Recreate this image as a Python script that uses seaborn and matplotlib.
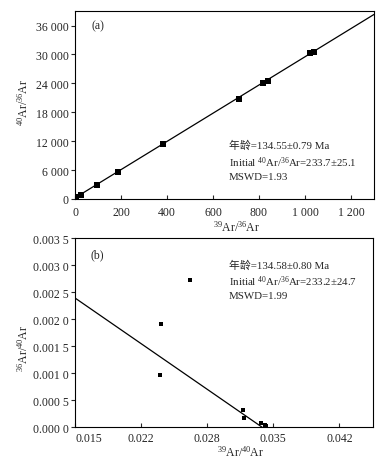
import matplotlib
matplotlib.use('Agg')
import matplotlib.pyplot as plt
import numpy as np
import pandas as pd
import seaborn as sns

# normal isochron (a)
iso_x = [5, 24, 96, 186, 382, 711, 817, 838, 1022, 1041]
iso_y = [380, 900, 2950, 5700, 11380, 20850, 24100, 24520, 30230, 30520]
iso_intercept = 233.7
iso_slope = 29.28

# inverse isochron (b)
inv_x = [0.02667, 0.02373, 0.02363, 0.03202, 0.03212, 0.03385, 0.03422, 0.03432]
inv_y = [0.00272, 0.00192, 0.00097, 0.000326, 0.000172, 0.000074, 0.000043, 0.000025]
inv_intercept = 1 / 233.2
inv_slope = -0.1262

a_xticks = [0, 200, 400, 600, 800, 1000, 1200]
a_xlabels = ['0', '200', '400', '600', '800', '1 000', '1 200']
a_yticks = [0, 6000, 12000, 18000, 24000, 30000, 36000]
a_ylabels = ['0', '6 000', '12 000', '18 000', '24 000', '30 000', '36 000']
b_xticks = [0.015, 0.0217, 0.0284, 0.0351, 0.0418]
b_xlabels = ['0.015', '0.022', '0.028', '0.035', '0.042']
b_yticks = [0, 0.0005, 0.001, 0.0015, 0.002, 0.0025, 0.003, 0.0035]
b_ylabels = ['0.000 0', '0.000 5', '0.001 0', '0.001 5', '0.002 0', '0.002 5', '0.003 0', '0.003 5']

a_text = ['年龄=134.55±0.79 Ma', 'Initial $^{40}$Ar/$^{36}$Ar=233.7±25.1', 'MSWD=1.93']
b_text = ['年龄=134.58±0.80 Ma', 'Initial $^{40}$Ar/$^{36}$Ar=233.2±24.7', 'MSWD=1.99']

sns.set_theme(style='ticks')
plt.rcParams['font.family'] = ['Liberation Serif', 'Noto Sans CJK SC']
plt.rcParams['mathtext.default'] = 'regular'
plt.rcParams['font.size'] = 8.5
plt.rcParams['axes.linewidth'] = 0.8
plt.rcParams['axes.edgecolor'] = 'black'

fig = plt.figure(figsize=(3.88, 4.64), dpi=100)
ax1 = fig.add_axes([0.1933, 0.569, 0.7706, 0.405])
ax2 = fig.add_axes([0.1933, 0.0769, 0.768, 0.4073])

df_a = pd.DataFrame({'x': iso_x, 'y': iso_y})
df_b = pd.DataFrame({'x': inv_x, 'y': inv_y})

# (a)
ax1.set_xlim(0, 1300)
ax1.set_ylim(0, 39000)
xa = np.array(ax1.get_xlim())
sns.lineplot(x=xa, y=iso_intercept + iso_slope * xa, ax=ax1, color='black', lw=0.9)
sns.scatterplot(data=df_a, x='x', y='y', ax=ax1, marker='s', s=16, color='black',
                edgecolor='black', linewidth=0, zorder=3)

# (b)
ax2.set_xlim(0.015, 0.0452)
ax2.set_ylim(0, 0.0035)
xb = np.array([0.015, -inv_intercept / inv_slope])
sns.lineplot(x=xb, y=inv_intercept + inv_slope * xb, ax=ax2, color='black', lw=0.9)
sns.scatterplot(data=df_b, x='x', y='y', ax=ax2, marker='s', s=9, color='black',
                edgecolor='black', linewidth=0, zorder=3)

for ax, xt, xl, yt, yl in [(ax1, a_xticks, a_xlabels, a_yticks, a_ylabels),
                           (ax2, b_xticks, b_xlabels, b_yticks, b_ylabels)]:
    ax.set_xticks(xt)
    ax.set_xticklabels(xl)
    ax.set_yticks(yt)
    ax.set_yticklabels(yl)
    ax.tick_params(axis='x', direction='in', length=3, width=0.8, labelsize=8.5)
    ax.tick_params(axis='y', direction='out', length=3, width=0.8, labelsize=8.5, pad=1.5)
    for s in ax.spines.values():
        s.set_visible(True)
        s.set_color('black')
        s.set_linewidth(0.8)

ax1.tick_params(axis='x', pad=5)
ax2.tick_params(axis='x', pad=3.5)
ax2.get_xticklabels()[0].set_ha('left')

ax1.set_xlabel('$^{39}$Ar/$^{36}$Ar', fontsize=8.5)
ax1.set_ylabel('$^{40}$Ar/$^{36}$Ar', fontsize=8.5)
ax2.set_xlabel('$^{39}$Ar/$^{40}$Ar', fontsize=8.5)
ax2.set_ylabel('$^{36}$Ar/$^{40}$Ar', fontsize=8.5)
ax1.xaxis.set_label_coords(0.542, -0.144)
ax1.xaxis.label.set_va('center')
ax1.yaxis.set_label_coords(-0.174, 0.519)
ax1.yaxis.label.set_va('center')
ax2.xaxis.set_label_coords(0.554, -0.125)
ax2.xaxis.label.set_va('center')
ax2.yaxis.set_label_coords(-0.174, 0.425)
ax2.yaxis.label.set_va('center')

ax1.text(0.056, 0.922, '(a)', transform=ax1.transAxes, ha='left', va='center', fontsize=8.5)
ax2.text(0.053, 0.918, '(b)', transform=ax2.transAxes, ha='left', va='center', fontsize=8.5)
for t, yy in zip(a_text, [0.287, 0.197, 0.117]):
    ax1.text(0.515, yy, t, transform=ax1.transAxes, ha='left', va='center', fontsize=7.8)
for t, yy in zip(b_text, [0.862, 0.778, 0.695]):
    ax2.text(0.517, yy, t, transform=ax2.transAxes, ha='left', va='center', fontsize=7.8)

fig.savefig('out.png', dpi=100)
